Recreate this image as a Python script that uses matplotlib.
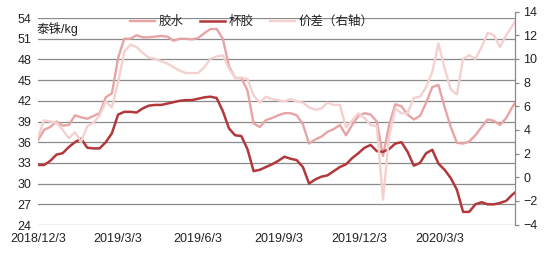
import matplotlib
matplotlib.use('Agg')
import matplotlib.pyplot as plt
import pandas as pd

plt.rcParams['font.family'] = ['Liberation Sans', 'Noto Sans CJK SC']
plt.rcParams['axes.unicode_minus'] = True

# weekly observations starting 2018-12-03
start_date = '2018-12-03'

latex = [36.3, 37.8, 38.2, 39.0, 38.4, 38.5, 39.9, 39.6, 39.4, 39.8,
         40.2, 42.5, 43.1, 48.2, 51.0, 51.0, 51.5, 51.2, 51.2, 51.3,
         51.4, 51.3, 50.7, 51.0, 51.0, 50.9, 51.1, 51.8, 52.4, 52.4,
         51.0, 47.0, 45.3, 45.3, 43.5, 38.7, 38.2, 39.2, 39.5, 39.9,
         40.2, 40.2, 39.9, 38.6, 35.8, 36.4, 36.8, 37.5, 37.9, 38.5,
         37.0, 38.5, 39.8, 40.2, 40.0, 39.0, 34.0, 38.5, 41.5, 41.2,
         40.0, 39.3, 39.8, 41.7, 44.0, 44.3, 41.1, 38.2, 35.9, 35.8,
         36.1, 37.0, 38.2, 39.3, 39.1, 38.5, 39.5, 41.1, 42.4]

cup = [32.7, 32.7, 33.3, 34.2, 34.4, 35.3, 36.0, 36.5, 35.2, 35.1,
       35.1, 36.0, 37.3, 40.0, 40.4, 40.4, 40.3, 40.9, 41.3, 41.4,
       41.4, 41.6, 41.8, 42.0, 42.1, 42.1, 42.3, 42.5, 42.6, 42.4,
       40.5, 38.0, 37.0, 36.9, 35.0, 31.8, 32.0, 32.4, 32.8, 33.3,
       33.9, 33.6, 33.4, 32.4, 30.0, 30.6, 31.0, 31.2, 31.8, 32.4,
       32.8, 33.7, 34.4, 35.2, 35.6, 34.7, 34.6, 35.0, 35.8, 36.0,
       34.6, 32.6, 33.0, 34.4, 34.9, 32.9, 32.0, 30.8, 29.1, 25.9,
       25.9, 27.0, 27.3, 27.0, 27.0, 27.2, 27.5, 28.4, 29.1]

spread = [3.4, 4.8, 4.7, 4.6, 4.0, 3.3, 3.8, 3.0, 4.3, 4.6,
          5.2, 6.4, 5.9, 8.0, 10.6, 11.2, 11.0, 10.5, 10.1, 10.0,
          9.8, 9.6, 9.3, 9.0, 8.8, 8.8, 8.8, 9.3, 10.0, 10.2,
          10.3, 9.2, 8.4, 8.4, 8.3, 6.9, 6.3, 6.8, 6.6, 6.5,
          6.4, 6.6, 6.4, 6.3, 5.9, 5.7, 5.8, 6.3, 6.1, 6.1,
          4.2, 4.8, 5.4, 5.0, 4.4, 4.3, -1.9, 3.5, 5.8, 5.4,
          5.4, 6.7, 6.8, 7.6, 8.9, 11.3, 9.2, 7.4, 7.0, 10.0,
          10.3, 10.0, 11.0, 12.2, 12.0, 11.0, 12.0, 12.8, 13.6]

series_names = ['胶水', '杯胶', '价差（右轴）']
left_ticks = [24, 27, 30, 33, 36, 39, 42, 45, 48, 51, 54]
right_ticks = [-4, -2, 0, 2, 4, 6, 8, 10, 12, 14]
x_tick_dates = ['2018-12-03', '2019-03-03', '2019-06-03', '2019-09-03', '2019-12-03', '2020-03-03']
x_tick_labels = ['2018/12/3', '2019/3/3', '2019/6/3', '2019/9/3', '2019/12/3', '2020/3/3']
x_end_date = '2020-05-28'
unit_label = '泰铢/kg'

dates = pd.date_range(start_date, periods=len(latex), freq='7D')

W, H = 550, 256
fig = plt.figure(figsize=(W / 100, H / 100), dpi=100)
ax = fig.add_axes([38 / W, (H - 225) / H, 477 / W, 207 / H])
ax2 = fig.add_axes([38 / W, (H - 224.5) / H, 477 / W, 213 / H], sharex=ax)
ax2.patch.set_visible(False)

c_latex = '#E8A4A4'
c_cup = '#B2383B'
c_spread = '#F5D0D0'
grid_c = '#8A8A8A'
txt_c = '#222222'
fs = 9

l1, = ax.plot(dates, latex, color=c_latex, lw=1.7, label=series_names[0])
l2, = ax.plot(dates, cup, color=c_cup, lw=1.8, label=series_names[1])
l3, = ax2.plot(dates, spread, color=c_spread, lw=1.7, label=series_names[2])

ax.set_ylim(24, 54)
ax.set_yticks(left_ticks)
ax.yaxis.grid(True, color=grid_c, lw=0.9)
ax.set_axisbelow(True)
for s in ax.spines.values():
    s.set_visible(False)
ax.tick_params(axis='y', length=0, pad=4.5, labelsize=fs, labelcolor=txt_c)
ax.set_xlim(pd.Timestamp(start_date), pd.Timestamp(x_end_date))
ax.set_xticks(pd.to_datetime(x_tick_dates))
ax.set_xticklabels(x_tick_labels)
ax.tick_params(axis='x', length=0, pad=5.5, labelsize=fs, labelcolor=txt_c)

ax2.set_ylim(-4, 14)
ax2.set_yticks(right_ticks)
for k, s in ax2.spines.items():
    s.set_visible(k == 'right')
ax2.spines['right'].set_color(grid_c)
ax2.spines['right'].set_linewidth(0.9)
ax2.yaxis.tick_right()
ax2.tick_params(axis='y', direction='out', length=3, width=0.9, color=grid_c,
                pad=3, labelsize=fs, labelcolor=txt_c)
ax2.tick_params(axis='x', bottom=False, labelbottom=False)

fig.text(37 / W, 1 - 29 / H, unit_label, fontsize=fs, color=txt_c,
         ha='left', va='center')

fig.legend(handles=[l1, l2, l3], labels=series_names, loc='center left',
           bbox_to_anchor=(130 / W, 1 - 22 / H), bbox_transform=fig.transFigure,
           ncol=3, frameon=False, fontsize=fs, handlelength=2.0,
           handletextpad=0.3, columnspacing=1.3, borderpad=0, borderaxespad=0,
           labelcolor=txt_c)

fig.savefig('out.png', dpi=100)
